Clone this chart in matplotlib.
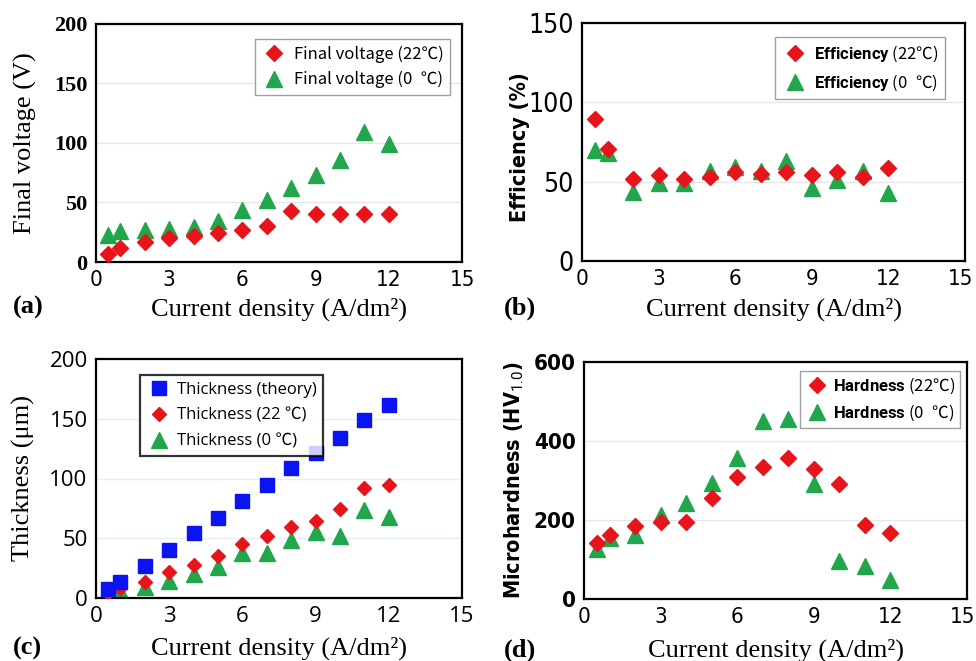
import matplotlib
matplotlib.use('Agg')
import matplotlib.pyplot as plt
from matplotlib import font_manager
from matplotlib.transforms import ScaledTranslation

# ---- data ----
current = [0.5, 1, 2, 3, 4, 5, 6, 7, 8, 9, 10, 11, 12]

volt_22 = [6.5, 12, 17, 20, 22, 24, 27, 30, 43, 40, 40, 40, 40]
volt_0 = [23, 26, 27, 28, 29.5, 34.5, 44, 52, 62.5, 73.5, 86, 109, 99]

eff_22 = [89.8, 70.7, 51.8, 53.9, 51.8, 52.8, 55.8, 54.9, 55.8, 53.9, 55.8, 52.8, 58.5]
eff_0 = [70, 68, 43.3, 49.4, 49.4, 56.8, 59.5, 56.8, 63.3, 46.3, 51, 56.8, 42.7]

thick_theory = [7.6, 13.2, 27, 40.3, 54.4, 66.8, 81.4, 94.4, 108.5, 121.4, 134, 148.7, 161.7]
thick_22 = [4, 8, 13.5, 22, 27.3, 35.2, 44.8, 51.5, 59.4, 64.8, 74.6, 92, 94.6]
thick_0 = [3, 6, 9, 14.6, 19.7, 26, 38, 38, 48.5, 55, 52, 74, 68]

hard_22 = [140.7, 161.8, 183.7, 193.8, 195.5, 254.5, 310, 333, 358, 328, 290, 188, 167]
hard_0 = [126, 154, 163, 213, 242, 293, 356, 451, 455, 291, 95, 84, 49]

xticks = [0, 3, 6, 9, 12, 15]

RED = '#e8141c'
GREEN = '#21a64b'
BLUE = '#0a14f2'

SERIF = 'Liberation Serif'
CJK = 'Noto Sans CJK JP'

# a condensed sans for the narrow tick labels, if one is around
cond = [f for f in font_manager.fontManager.ttflist
        if f.stretch in ('condensed', 'semi-condensed', 'extra-condensed')
        or 'Narrow' in f.name or 'Condensed' in f.name]
if cond:
    NARROW = dict(family=cond[0].name, stretch=cond[0].stretch)
else:
    NARROW = dict(family='Roboto')

plt.rcParams['mathtext.fontset'] = 'custom'
plt.rcParams['mathtext.rm'] = 'Roboto'
plt.rcParams['mathtext.bf'] = 'Roboto:bold'
plt.rcParams['axes.linewidth'] = 1.6

fig = plt.figure(figsize=(9.76, 6.61), dpi=100)
W, H = 976, 661


def make_ax(l, t, r, b):
    ax = fig.add_axes([l / W, 1 - b / H, (r - l) / W, (b - t) / H])
    ax.set_xlim(0, 15)
    ax.set_xticks(xticks)
    ax.tick_params(length=0, pad=6)
    ax.grid(axis='y', color='#e6e6e6', linewidth=1)
    ax.set_axisbelow(True)
    return ax


def style_ticks(ax, xfont, yfont):
    for lab in ax.get_xticklabels():
        lab.set_fontproperties(font_manager.FontProperties(**xfont))
    for lab in ax.get_yticklabels():
        lab.set_fontproperties(font_manager.FontProperties(**yfont))


def nudge_last_xtick(ax):
    # keep the "15" at the figure's right edge inside the picture
    lab = ax.get_xticklabels()[-1]
    lab.set_transform(lab.get_transform() + ScaledTranslation(-4 / 100, 0, fig.dpi_scale_trans))


# (a) final voltage
ax = make_ax(96, 24, 462, 262)
ax.set_ylim(0, 200)
ax.set_yticks([0, 50, 100, 150, 200])
ax.plot(current, volt_22, 'D', color=RED, ms=8.5, label='Final voltage (22℃)', zorder=3)
ax.plot(current, volt_0, '^', color=GREEN, ms=12, label='Final voltage (0\u2002℃)', zorder=2)
style_ticks(ax, dict(NARROW, size=16), dict(family=SERIF, weight='bold', size=16))
ax.set_ylabel('Final voltage (V)', family=SERIF, fontsize=19)
ax.set_xlabel('Current density (A/dm²)', family=SERIF, fontsize=19)
ax.yaxis.set_label_coords(-0.161, 0.5)
ax.xaxis.set_label_coords(0.5, -0.15)
ax.legend(loc='upper right', bbox_to_anchor=(0.967, 0.937), borderaxespad=0,
          prop=dict(family=CJK, size=12), fancybox=False, edgecolor='#888888',
          handletextpad=0.4, labelspacing=0.5, borderpad=0.4, handlelength=1.5)

# (b) efficiency
ax = make_ax(582, 23, 965, 261)
ax.set_ylim(0, 150)
ax.set_yticks([0, 50, 100, 150])
ax.plot(current, eff_22, 'D', color=RED, ms=8.5, label=r'$\mathbf{Efficiency}$ (22℃)', zorder=3)
ax.plot(current, eff_0, '^', color=GREEN, ms=12, label=r'$\mathbf{Efficiency}$ (0' + '\u2002℃)', zorder=2)
style_ticks(ax, dict(NARROW, size=16), dict(NARROW, size=19))
nudge_last_xtick(ax)
ax.set_ylabel('Efficiency (%)', fontweight='bold', fontsize=15.5, **NARROW)
ax.set_xlabel('Current density (A/dm²)', family=SERIF, fontsize=19)
ax.yaxis.set_label_coords(-0.136, 0.479)
ax.xaxis.set_label_coords(0.5, -0.155)
ax.legend(loc='upper right', bbox_to_anchor=(0.948, 0.941), borderaxespad=0,
          prop=dict(family=CJK, size=12), fancybox=False, edgecolor='#888888',
          handletextpad=0.4, labelspacing=0.5, borderpad=0.4, handlelength=1.5)

# (c) thickness
ax = make_ax(96, 359, 462, 598)
ax.set_ylim(0, 200)
ax.set_yticks([0, 50, 100, 150, 200])
ax.grid(axis='y', color='#e4eef6', linewidth=1)
ax.plot(current, thick_theory, 's', color=BLUE, ms=10, label='Thickness (theory)', zorder=4)
ax.plot(current, thick_22, 'D', color=RED, ms=7.5, label='Thickness (22 ℃)', zorder=3)
ax.plot(current, thick_0, '^', color=GREEN, ms=11, label='Thickness (0 ℃)', zorder=2)
style_ticks(ax, dict(family='Open Sans', size=16), dict(family='Open Sans', size=16))
ax.set_ylabel('Thickness (\u03bcm)', family=[SERIF, CJK], fontsize=19)
ax.set_xlabel('Current density (A/dm²)', family=SERIF, fontsize=19)
ax.yaxis.set_label_coords(-0.167, 0.502)
ax.xaxis.set_label_coords(0.5, -0.163)
leg = ax.legend(loc='upper left', bbox_to_anchor=(0.12, 0.933), borderaxespad=0,
                prop=dict(family='Open Sans', size=12), fancybox=False, edgecolor='black',
                handletextpad=0.3, labelspacing=0.6, borderpad=0.4, handlelength=1.5)
leg.get_frame().set_linewidth(1.6)
for t in leg.get_texts():
    t.set_family(['Open Sans', CJK])

# (d) microhardness
ax = make_ax(584, 362, 967, 599)
ax.set_ylim(0, 600)
ax.set_yticks([0, 200, 400, 600])
ax.plot(current, hard_22, 'D', color=RED, ms=8.5, label=r'$\mathbf{Hardness}$ (22℃)', zorder=3)
ax.plot(current, hard_0, '^', color=GREEN, ms=12, label=r'$\mathbf{Hardness}$ (0' + '\u2002℃)', zorder=2)
style_ticks(ax, dict(NARROW, size=16), dict(NARROW, size=16, weight='bold'))
nudge_last_xtick(ax)
ax.set_ylabel(r'Microhardness (HV$_{1.0}$)', fontweight='bold', fontsize=15.5, **NARROW)
ax.set_xlabel('Current density (A/dm²)', family=SERIF, fontsize=19)
ax.yaxis.set_label_coords(-0.151, 0.502)
ax.xaxis.set_label_coords(0.5, -0.165)
ax.legend(loc='upper right', bbox_to_anchor=(0.982, 0.962), borderaxespad=0,
          prop=dict(family=CJK, size=12), fancybox=False, edgecolor='#888888',
          handletextpad=0.2, labelspacing=0.4, borderpad=0.3, handlelength=1.5)

# panel letters
for lab, x, y in [('(a)', 28, 307), ('(b)', 520, 308), ('(c)', 27, 648), ('(d)', 520, 650)]:
    fig.text(x / W, 1 - y / H, lab, family=SERIF, fontweight='bold', fontsize=19,
             ha='center', va='center')

fig.savefig('out.png', dpi=100)
